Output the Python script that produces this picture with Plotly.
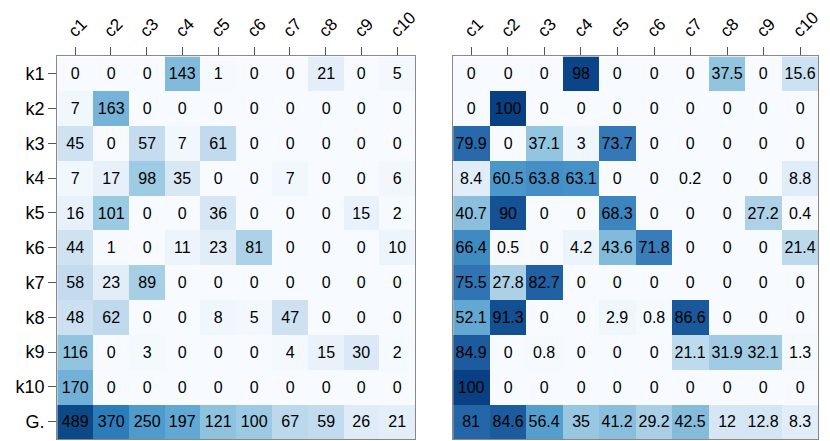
import plotly.graph_objects as go

# rows / columns
rows = ['k1', 'k2', 'k3', 'k4', 'k5', 'k6', 'k7', 'k8', 'k9', 'k10', 'G.']
cols = ['c1', 'c2', 'c3', 'c4', 'c5', 'c6', 'c7', 'c8', 'c9', 'c10']

# left panel: counts
counts = [
    [0, 0, 0, 143, 1, 0, 0, 21, 0, 5],
    [7, 163, 0, 0, 0, 0, 0, 0, 0, 0],
    [45, 0, 57, 7, 61, 0, 0, 0, 0, 0],
    [7, 17, 98, 35, 0, 0, 7, 0, 0, 6],
    [16, 101, 0, 0, 36, 0, 0, 0, 15, 2],
    [44, 1, 0, 11, 23, 81, 0, 0, 0, 10],
    [58, 23, 89, 0, 0, 0, 0, 0, 0, 0],
    [48, 62, 0, 0, 8, 5, 47, 0, 0, 0],
    [116, 0, 3, 0, 0, 0, 4, 15, 30, 2],
    [170, 0, 0, 0, 0, 0, 0, 0, 0, 0],
    [489, 370, 250, 197, 121, 100, 67, 59, 26, 21],
]

# right panel: percentages
pct = [
    [0, 0, 0, 98, 0, 0, 0, 37.5, 0, 15.6],
    [0, 100, 0, 0, 0, 0, 0, 0, 0, 0],
    [79.9, 0, 37.1, 3, 73.7, 0, 0, 0, 0, 0],
    [8.4, 60.5, 63.8, 63.1, 0, 0, 0.2, 0, 0, 8.8],
    [40.7, 90, 0, 0, 68.3, 0, 0, 0, 27.2, 0.4],
    [66.4, 0.5, 0, 4.2, 43.6, 71.8, 0, 0, 0, 21.4],
    [75.5, 27.8, 82.7, 0, 0, 0, 0, 0, 0, 0],
    [52.1, 91.3, 0, 0, 2.9, 0.8, 86.6, 0, 0, 0],
    [84.9, 0, 0.8, 0, 0, 0, 21.1, 31.9, 32.1, 1.3],
    [100, 0, 0, 0, 0, 0, 0, 0, 0, 0],
    [81, 84.6, 56.4, 35, 41.2, 29.2, 42.5, 12, 12.8, 8.3],
]

# colour ramps (blues)
scale_counts = [
    [0.0, '#f7fbff'], [0.043, '#e3eef8'], [0.12, '#c3dbee'], [0.2, '#9dcbe4'],
    [0.29, '#82badb'], [0.40, '#62a8d4'], [0.51, '#4e9bcc'], [0.76, '#2c7cba'],
    [1.0, '#0b4a87'],
]
scale_pct = [
    [0.0, '#f7fbff'], [0.03, '#eff6fc'], [0.083, '#e1edf8'], [0.12, '#d6e6f4'],
    [0.29, '#a9cfe6'], [0.35, '#98c7e1'], [0.41, '#8abfdd'], [0.564, '#549fce'],
    [0.638, '#4490c6'], [0.737, '#3578b7'], [0.81, '#2466a8'], [0.846, '#1c5c9e'],
    [1.0, '#084083'],
]

FONT = 'Liberation Sans, Arial, sans-serif'
TOP = 0.8964


def fmt(m):
    return [['{:g}'.format(v) for v in r] for r in m]


fig = go.Figure()
fig.add_trace(go.Heatmap(
    z=counts, x=cols, y=rows, text=fmt(counts), texttemplate='%{text}',
    textfont=dict(color='black', size=16, family=FONT),
    colorscale=scale_counts, zmin=0, zmax=max(counts[-1]),
    showscale=False, xaxis='x', yaxis='y', hoverinfo='skip'))
fig.add_trace(go.Heatmap(
    z=pct, x=cols, y=rows, text=fmt(pct), texttemplate='%{text}',
    textfont=dict(color='black', size=16, family=FONT),
    colorscale=scale_pct, zmin=0, zmax=100,
    showscale=False, xaxis='x2', yaxis='y2', hoverinfo='skip'))

xax = dict(side='top', tickangle=-45, ticks='outside', ticklen=8, tickcolor='#555',
           ticklabelshift=-6,
           showline=True, mirror=True, linecolor='#888', linewidth=1,
           showgrid=False, zeroline=False, tickfont=dict(size=17, color='black'))
yax = dict(autorange='reversed', showline=True, mirror=True, linecolor='#888', linewidth=1,
           showgrid=False, zeroline=False)

fig.update_layout(
    width=830, height=441,
    margin=dict(l=0, r=0, t=0, b=0),
    paper_bgcolor='white', plot_bgcolor='white',
    font=dict(family=FONT, color='black'),
    xaxis=dict(xax, domain=[0.0596, 0.4931], anchor='y'),
    xaxis2=dict(xax, domain=[0.5389, 0.9811], anchor='y2'),
    yaxis=dict(yax, domain=[0.0227, TOP], anchor='x', ticks='outside', ticklen=8,
               tickcolor='#555', tickfont=dict(size=18, color='black')),
    yaxis2=dict(yax, domain=[0.0227, TOP], anchor='x2', showticklabels=False, ticks=''),
)

fig.write_html('out.html')
